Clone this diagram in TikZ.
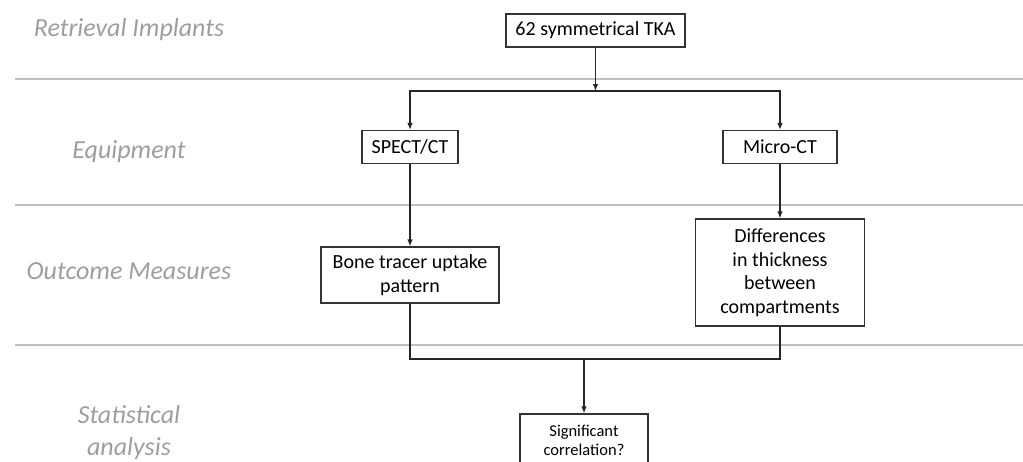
\documentclass[tikz,border=0pt]{standalone}
\usepackage{fontspec}
\setmainfont{Carlito}
\usepackage{tikz}
\usetikzlibrary{arrows.meta}

\begin{document}
\begin{tikzpicture}[x=1pt,y=-1pt,
box/.style={draw=black!80,line width=1.1pt,fill=white,font=\fontsize{20}{23.5}\selectfont,align=center,inner sep=0pt},
lbl/.style={text=black!38,font=\fontsize{26}{32}\selectfont\itshape,align=center},
sep/.style={draw=black!25,line width=2pt},
lnk/.style={draw=black!85,line width=1.2pt},
arr/.style={lnk,-{Latex[length=7pt,width=5.5pt]}}]
\useasboundingbox (0,0) rectangle (1023,461);
\foreach \y in {79,205,345} {
   \draw[sep] (15,\y) -- (1023,\y);
}
\node[lbl,anchor=base] (retr) at (129,36) {Retrieval Implants};
\node[lbl,anchor=base] (equip) at (129,158) {Equipment};
\node[lbl,anchor=base] (outc) at (129,279) {Outcome Measures};
\node[lbl] (stat) at (129,433) {Statistical\\analysis};

\node[box,minimum width=179pt,minimum height=33pt] (tka) at (595.5,30.5) {62 symmetrical TKA};
\node[box,minimum width=96pt,minimum height=33pt] (spect) at (410,147) {SPECT/CT};
\node[box,minimum width=114pt,minimum height=33pt] (micro) at (780,147) {Micro-CT};
\node[box,minimum width=178pt,minimum height=56pt] (bone) at (410,275) {Bone tracer uptake\\pattern};
\node[box,minimum width=169pt,minimum height=107pt] (diff) at (780,272.5)
   {Differences\\in thickness\\between\\compartments};
\node[box,minimum width=128pt,minimum height=52pt,font=\fontsize{16.5}{19}\selectfont] (sig) at (584,440)
   {Significant\\correlation?};

\coordinate (split) at (595.5,91);
\coordinate (join) at (584,359);
\draw[arr] (tka) -- (split);
\draw[arr] (split) -| (spect);
\draw[arr] (split) -| (micro);
\draw[arr] (spect) -- (bone);
\draw[arr] (micro) -- (diff);
\draw[lnk] (bone) |- (join);
\draw[lnk] (diff) |- (join);
\draw[arr] (join) -- (sig);
\end{tikzpicture}
\end{document}
